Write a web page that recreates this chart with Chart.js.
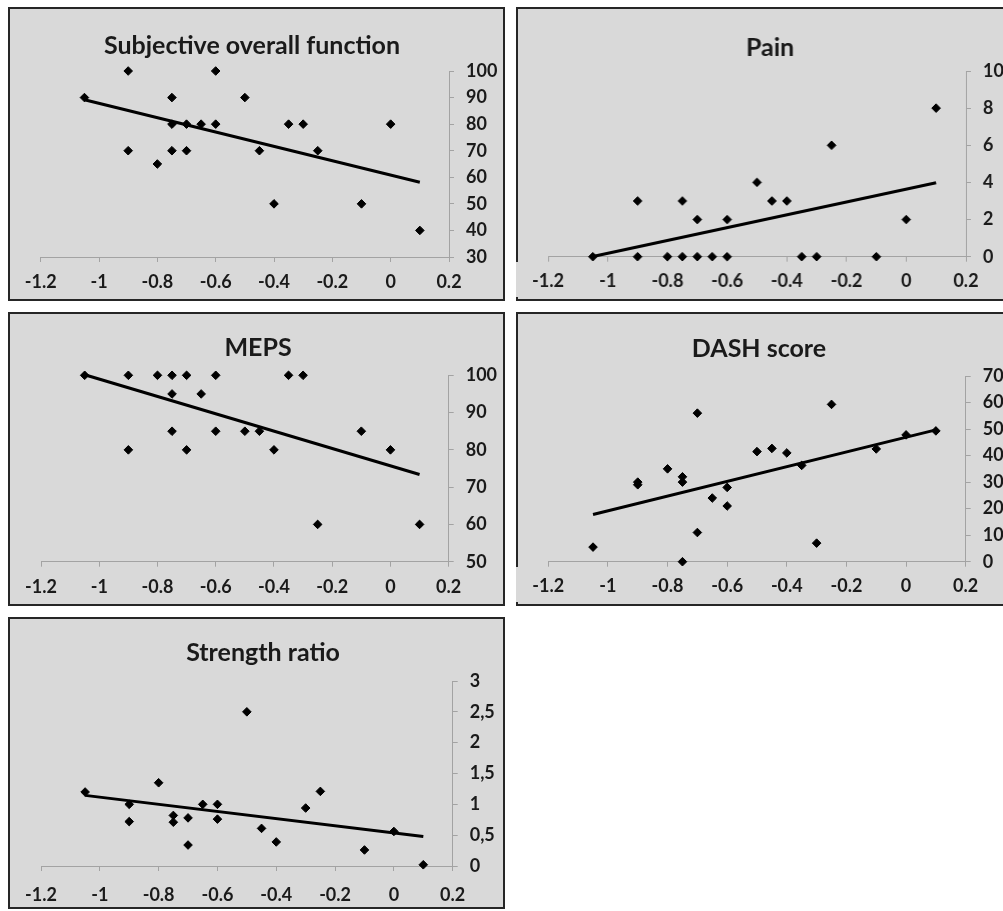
<!DOCTYPE html>
<html>
<head>
<meta charset="utf-8">
<script src="https://cdn.jsdelivr.net/npm/chart.js@4/dist/chart.umd.min.js"></script>
<style>
  html, body { margin: 0; padding: 0; background: #ffffff; overflow: hidden; width: 1003px; height: 911px; position: relative; }
  .panel { position: absolute; box-sizing: border-box; background: #d9d9d9; border: 2px solid #262626; }
  .gap { position: absolute; background: #d9d9d9; width: 3px; }
  canvas.chart { position: absolute; }
</style>
</head>
<body>
<script>
// ---------------- DATA ----------------
const xTickLabels = ['-1.2', '-1', '-0.8', '-0.6', '-0.4', '-0.2', '0', '0.2'];

const sofTitle = 'Subjective overall function';
const sofX = [-1.05, -0.9, -0.9, -0.8, -0.75, -0.75, -0.75, -0.7, -0.7, -0.65, -0.6, -0.6, -0.5, -0.45, -0.4, -0.35, -0.3, -0.25, -0.1, 0, 0.1];
const sofY = [90, 100, 70, 65, 90, 80, 70, 80, 70, 80, 100, 80, 90, 70, 50, 80, 80, 70, 50, 80, 40];
const sofYTicks = ['30', '40', '50', '60', '70', '80', '90', '100'];

const painTitle = 'Pain';
const painX = [-1.05, -0.9, -0.9, -0.8, -0.75, -0.75, -0.7, -0.7, -0.65, -0.6, -0.6, -0.5, -0.45, -0.4, -0.35, -0.3, -0.25, -0.1, 0, 0.1];
const painY = [0, 3, 0, 0, 3, 0, 2, 0, 0, 2, 0, 4, 3, 3, 0, 0, 6, 0, 2, 8];
const painYTicks = ['0', '2', '4', '6', '8', '10'];

const mepsTitle = 'MEPS';
const mepsX = [-1.05, -0.9, -0.9, -0.8, -0.75, -0.75, -0.75, -0.7, -0.7, -0.65, -0.6, -0.6, -0.5, -0.45, -0.4, -0.35, -0.3, -0.25, -0.1, 0, 0.1];
const mepsY = [100, 100, 80, 100, 100, 95, 85, 100, 80, 95, 100, 85, 85, 85, 80, 100, 100, 60, 85, 80, 60];
const mepsYTicks = ['50', '60', '70', '80', '90', '100'];

const dashTitle = 'DASH score';
const dashX = [-1.05, -0.9, -0.9, -0.8, -0.75, -0.75, -0.75, -0.7, -0.7, -0.65, -0.6, -0.6, -0.5, -0.45, -0.4, -0.35, -0.3, -0.25, -0.1, 0, 0.1];
const dashY = [5.5, 30, 29, 35, 32, 30, 0, 56, 11, 24, 28, 21, 41.5, 42.7, 41, 36.3, 7, 59.3, 42.5, 47.8, 49.3];
const dashYTicks = ['0', '10', '20', '30', '40', '50', '60', '70'];

const strTitle = 'Strength ratio';
const strX = [-1.05, -0.9, -0.9, -0.8, -0.75, -0.75, -0.7, -0.7, -0.65, -0.6, -0.6, -0.5, -0.45, -0.4, -0.3, -0.25, -0.1, 0, 0.1];
const strY = [1.2, 1.0, 0.72, 1.35, 0.82, 0.71, 0.78, 0.34, 1.0, 1.0, 0.76, 2.5, 0.61, 0.39, 0.94, 1.21, 0.26, 0.56, 0.02];
const strYTicks = ['0', '0,5', '1', '1,5', '2', '2,5', '3'];

// ---------------- LAYOUT (page pixels) ----------------
const panels = [
  { title: sofTitle, xs: sofX, ys: sofY, yTicks: sofYTicks, yMin: 30, yMax: 100, yStep: 10,
    left: 8, top: 7, w: 497, h: 294, plotLeft: 40.7, plotRight: 449, plotTop: 71, plotBottom: 257,
    titleX: 252, titleY: 46, xPad: 9, gap: false },
  { title: painTitle, xs: painX, ys: painY, yTicks: painYTicks, yMin: 0, yMax: 10, yStep: 2,
    left: 516, top: 7, w: 497, h: 294, plotLeft: 548.3, plotRight: 965.7, plotTop: 71, plotBottom: 256.7,
    titleX: 770, titleY: 48.3, xPad: 9, gap: true },
  { title: mepsTitle, xs: mepsX, ys: mepsY, yTicks: mepsYTicks, yMin: 50, yMax: 100, yStep: 10,
    left: 8, top: 312, w: 497, h: 294, plotLeft: 40.7, plotRight: 449, plotTop: 375.3, plotBottom: 561.7,
    titleX: 258, titleY: 348.3, xPad: 10, gap: false },
  { title: dashTitle, xs: dashX, ys: dashY, yTicks: dashYTicks, yMin: 0, yMax: 70, yStep: 10,
    left: 516, top: 312, w: 497, h: 294, plotLeft: 548.3, plotRight: 965.7, plotTop: 376, plotBottom: 561.7,
    titleX: 759, titleY: 349.2, xPad: 9, gap: true },
  { title: strTitle, xs: strX, ys: strY, yTicks: strYTicks, yMin: 0, yMax: 3, yStep: 0.5,
    left: 8, top: 617, w: 497, h: 292, plotLeft: 41, plotRight: 452.7, plotTop: 681, plotBottom: 866,
    titleX: 263, titleY: 652.8, xPad: 13, gap: false }
];

const TITLE_SIZE = 25;
const TICK_SIZE = 18;
const AXIS_COLOR = '#a3a3a3';
const TEXT_COLOR = '#1a1a1a';
const MIN_LEFT = 34;

function regression(xs, ys) {
  const n = xs.length;
  const mx = xs.reduce((a, b) => a + b, 0) / n;
  const my = ys.reduce((a, b) => a + b, 0) / n;
  let sxy = 0, sxx = 0;
  for (let i = 0; i < n; i++) { sxy += (xs[i] - mx) * (ys[i] - my); sxx += (xs[i] - mx) ** 2; }
  const slope = sxy / sxx;
  return { slope, intercept: my - slope * mx };
}

function drawPanelBox(p) {
  const div = document.createElement('div');
  div.className = 'panel';
  Object.assign(div.style, { left: p.left + 'px', top: p.top + 'px', width: p.w + 'px', height: p.h + 'px' });
  document.body.appendChild(div);
  if (p.gap) {
    const g = document.createElement('div');
    g.className = 'gap';
    Object.assign(g.style, { left: (p.left - 0.5) + 'px', top: (p.top + 255) + 'px', height: '35px' });
    document.body.appendChild(g);
  }
}

function build(p) {
  let B = p.left + p.w - 2;            // canvas right edge (page)
  let A = 2 * p.titleX - B;            // canvas left edge so the title is centred at titleX
  if (p.plotLeft - A < MIN_LEFT) {     // keep enough room on the left for the first x label
    A = p.plotLeft - MIN_LEFT;
    B = 2 * p.titleX - A;
  }
  const W = B - A;
  const oy = p.top + 2, H = p.h - 4;
  const canvas = document.createElement('canvas');
  canvas.className = 'chart';
  canvas.width = W; canvas.height = H;
  Object.assign(canvas.style, { left: A + 'px', top: oy + 'px', width: W + 'px', height: H + 'px' });
  document.body.appendChild(canvas);

  const leftW = p.plotLeft - A;
  const yW = B - p.plotRight;
  const xH = H - (p.plotBottom - oy);
  const lh = TITLE_SIZE * 1.2;
  const padTop = p.titleY - oy - lh / 2;
  const padBottom = (p.plotTop - oy) - lh - padTop;

  const reg = regression(p.xs, p.ys);
  const xMinD = Math.min(...p.xs), xMaxD = Math.max(...p.xs);
  const points = p.xs.map((x, i) => ({ x, y: p.ys[i] }));
  const trend = [
    { x: xMinD, y: reg.intercept + reg.slope * xMinD },
    { x: xMaxD, y: reg.intercept + reg.slope * xMaxD }
  ];

  new Chart(canvas, {
    type: 'scatter',
    data: {
      datasets: [
        { data: points, pointStyle: 'rectRot', pointRadius: 4.3, pointHoverRadius: 4.3, clip: false,
          backgroundColor: '#000000', borderColor: '#000000', borderWidth: 1, showLine: false },
        { type: 'line', data: trend, borderColor: '#000000', borderWidth: 3, pointRadius: 0, clip: 2,
          fill: false, showLine: true, tension: 0, borderCapStyle: 'butt' }
      ]
    },
    options: {
      responsive: false,
      animation: false,
      layout: { padding: 0 },
      plugins: {
        legend: { display: false },
        tooltip: { enabled: false },
        title: { display: true, text: p.title, color: TEXT_COLOR,
          font: { family: 'Lato', size: TITLE_SIZE, weight: 'bold', lineHeight: 1.2 },
          padding: { top: padTop, bottom: padBottom } }
      },
      scales: {
        x: {
          type: 'linear', position: 'bottom', min: -1.2, max: 0.2,
          grid: { drawOnChartArea: false, drawTicks: true, tickLength: 5, color: AXIS_COLOR, lineWidth: 1 },
          border: { display: true, color: AXIS_COLOR, width: 1 },
          ticks: { stepSize: 0.2, padding: p.xPad, color: TEXT_COLOR, maxRotation: 0, autoSkip: false,
            font: { family: 'Lato', size: TICK_SIZE, weight: 'bold' },
            callback: (v, i) => xTickLabels[i] },
          afterFit: (s) => { s.height = xH; }
        },
        y: {
          type: 'linear', position: 'right', min: p.yMin, max: p.yMax,
          grid: { drawOnChartArea: false, drawTicks: true, tickLength: 5, color: AXIS_COLOR, lineWidth: 1 },
          border: { display: true, color: AXIS_COLOR, width: 1 },
          ticks: { stepSize: p.yStep, padding: 12, color: TEXT_COLOR, autoSkip: false,
            font: { family: 'Lato', size: TICK_SIZE, weight: 'bold' },
            callback: (v, i) => p.yTicks[i] },
          afterFit: (s) => { s.width = yW; }
        },
        spacer: {
          type: 'linear', position: 'left', display: true,
          grid: { display: false }, border: { display: false }, ticks: { display: false },
          afterFit: (s) => { s.width = leftW; }
        }
      }
    }
  });
}

function start() {
  panels.forEach(drawPanelBox);
  panels.forEach(build);
}
if (document.fonts && document.fonts.load) {
  Promise.all([document.fonts.load('bold 25px Lato'), document.fonts.load('bold 18px Lato')])
    .then(start, start);
} else { start(); }
</script>
</body>
</html>
